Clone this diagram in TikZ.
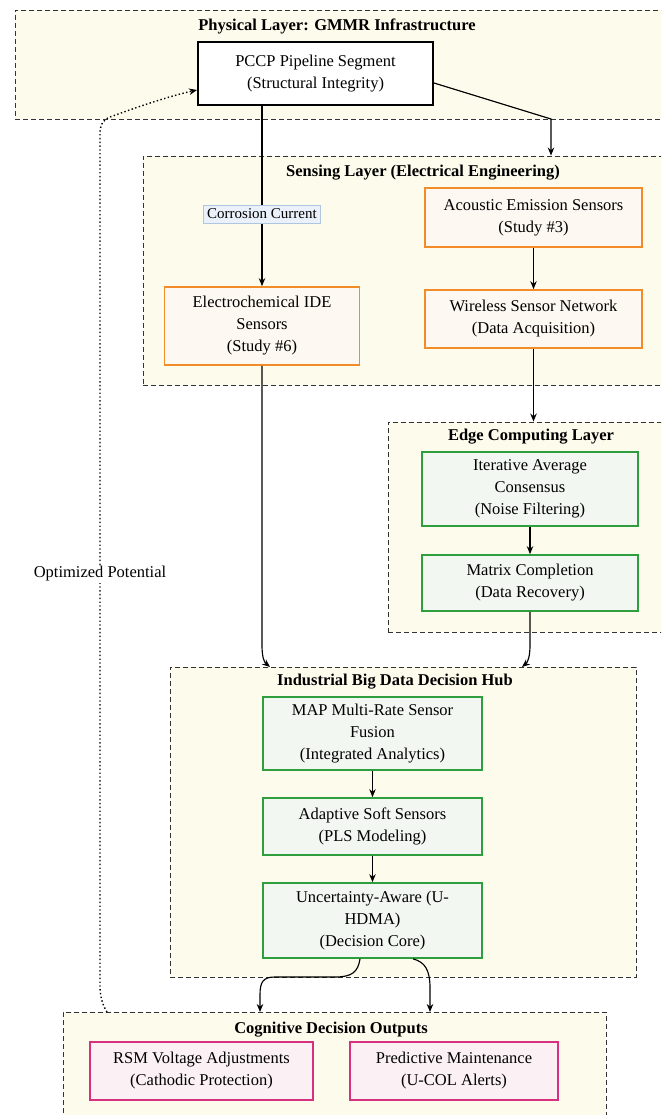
\documentclass[tikz,border=0pt]{standalone}
\usepackage{fontspec}
\setmainfont{Liberation Serif}
\usetikzlibrary{arrows.meta,calc}
\definecolor{clfill}{HTML}{FDFBEC}
\definecolor{orgline}{HTML}{F28C28}
\definecolor{orgfill}{HTML}{FDF8F1}
\definecolor{grnline}{HTML}{2E9E3E}
\definecolor{grnfill}{HTML}{F2F8F1}
\definecolor{pnkline}{HTML}{D6307E}
\definecolor{pnkfill}{HTML}{FBF1F5}
\definecolor{lblfill}{HTML}{EAF1FA}
\definecolor{lblline}{HTML}{AFC6DF}
\definecolor{dashgray}{HTML}{333333}
\begin{document}
\begin{tikzpicture}[x=1pt,y=-1pt,
  every node/.style={font=\fontsize{16.5}{22}\selectfont, align=center, inner sep=0pt},
  cluster/.style={rectangle, draw=dashgray, fill=clfill, line width=0.9pt, dash pattern=on 5pt off 3pt},
  ctitle/.style={font=\bfseries\fontsize{16.5}{22}\selectfont},
  pbox/.style={rectangle, draw=black, fill=white, line width=2pt},
  obox/.style={rectangle, draw=orgline, fill=orgfill, line width=1.7pt},
  gbox/.style={rectangle, draw=grnline, fill=grnfill, line width=1.7pt},
  mbox/.style={rectangle, draw=pnkline, fill=pnkfill, line width=1.7pt},
  elabel/.style={rectangle, draw=lblline, fill=lblfill, line width=0.6pt, inner xsep=4pt, minimum height=18pt, font=\fontsize{15}{18}\selectfont},
  arr/.style={-{Stealth[length=8pt,width=6.5pt]}, line width=1.15pt, black},
  fbarr/.style={-{Stealth[length=8pt,width=6.5pt]}, line width=1.4pt, black, dash pattern=on 1.4pt off 2.4pt}
]
\useasboundingbox (0,0) rectangle (661,1115);
\clip (0,0) rectangle (661,1115);

% clusters
\node[cluster, minimum width=655pt, minimum height=109pt] (phys) at (342.5,64.5) {};
\node[cluster, minimum width=562pt, minimum height=229pt] (sens) at (424,270.5) {};
\node[cluster, minimum width=292pt, minimum height=210pt] (edge) at (534,527) {};
\node[cluster, minimum width=466pt, minimum height=310pt] (hub) at (403,822) {};
\node[cluster, minimum width=543pt, minimum height=130pt] (cog) at (334.5,1077) {};

% cluster titles
\node[ctitle] (physT) at (337,26) {Physical Layer: GMMR Infrastructure};
\node[ctitle] (sensT) at (423,173) {Sensing Layer (Electrical Engineering)};
\node[ctitle] (edgeT) at (531,437) {Edge Computing Layer};
\node[ctitle] (hubT) at (395,682) {Industrial Big Data Decision Hub};
\node[ctitle] (cogT) at (331,1030) {Cognitive Decision Outputs};

% boxes
\node[pbox, minimum width=235pt, minimum height=63pt] (pccp) at (315.5,73.5) {PCCP Pipeline Segment\\(Structural Integrity)};
\node[obox, minimum width=195pt, minimum height=78pt] (electro) at (262,326) {Electrochemical IDE\\Sensors\\(Study \#6)};
\node[obox, minimum width=217pt, minimum height=59pt] (acoustic) at (533.5,217.5) {Acoustic Emission Sensors\\(Study \#3)};
\node[obox, minimum width=217pt, minimum height=58pt] (wireless) at (533.5,319) {Wireless Sensor Network\\(Data Acquisition)};
\node[gbox, minimum width=216pt, minimum height=74pt] (iter) at (530,489) {Iterative Average\\Consensus\\(Noise Filtering)};
\node[gbox, minimum width=216pt, minimum height=56pt] (matrix) at (530,583) {Matrix Completion\\(Data Recovery)};
\node[gbox, minimum width=219pt, minimum height=73pt] (map) at (372.5,733.5) {MAP Multi-Rate Sensor\\Fusion\\(Integrated Analytics)};
\node[gbox, minimum width=219pt, minimum height=57pt] (adapt) at (372.5,826.5) {Adaptive Soft Sensors\\(PLS Modeling)};
\node[gbox, minimum width=219pt, minimum height=75pt] (unc) at (372.5,920.5) {Uncertainty-Aware (U-\\HDMA)\\(Decision Core)};
\node[mbox, minimum width=223pt, minimum height=58pt] (rsm) at (201.5,1071) {RSM Voltage Adjustments\\(Cathodic Protection)};
\node[mbox, minimum width=208pt, minimum height=58pt] (pred) at (454,1071) {Predictive Maintenance\\(U-COL Alerts)};

% connectors
\draw[arr] (pccp.south -| electro.north) -- node[elabel, pos=0.6] (corr) {Corrosion Current} (electro.north);

\coordinate (k1) at (551,119);
\draw[arr] ([yshift=-9.5pt]pccp.east) -- (k1) -- (k1 |- sens.north);

\draw[arr] (acoustic) -- (wireless);
\draw[arr] (wireless.south) -- (wireless.south |- edge.north);
\draw[arr] (iter) -- (matrix);

\coordinate (h1) at (270,667);
\coordinate (h2) at (522,667);
\draw[arr] (electro.south) -- (262,645) .. controls (262,657) and (264,662) .. (h1);
\draw[arr] (matrix.south) -- (530,645) .. controls (530,656) and (528,662) .. (h2);

\draw[arr] (map) -- (adapt);
\draw[arr] (adapt) -- (unc);

\coordinate (o1) at (260,1012);
\coordinate (o2) at (430,1012);
\draw[arr] ([xshift=-12.5pt]unc.south) .. controls (358,972) and (352,977) .. (335,977) -- (275,977) .. controls (263,977) and (260,982) .. (260,995) -- (o1);
\draw[arr] ([xshift=40.5pt]unc.south) .. controls (425,962) and (430,970) .. (430,988) -- (o2);

% feedback
\coordinate (fb) at (107,1012);
\draw[fbarr] (fb) .. controls (102,1004) and (100,996) .. (100,985) -- (100,135) .. controls (100,124) and (103,120) .. (110,117) .. controls (140,106) and (170,96) .. ([yshift=-16.5pt]pccp.west);
\node[fill=white, inner sep=2pt] (optL) at (100,574) {Optimized Potential};
\end{tikzpicture}
\end{document}
